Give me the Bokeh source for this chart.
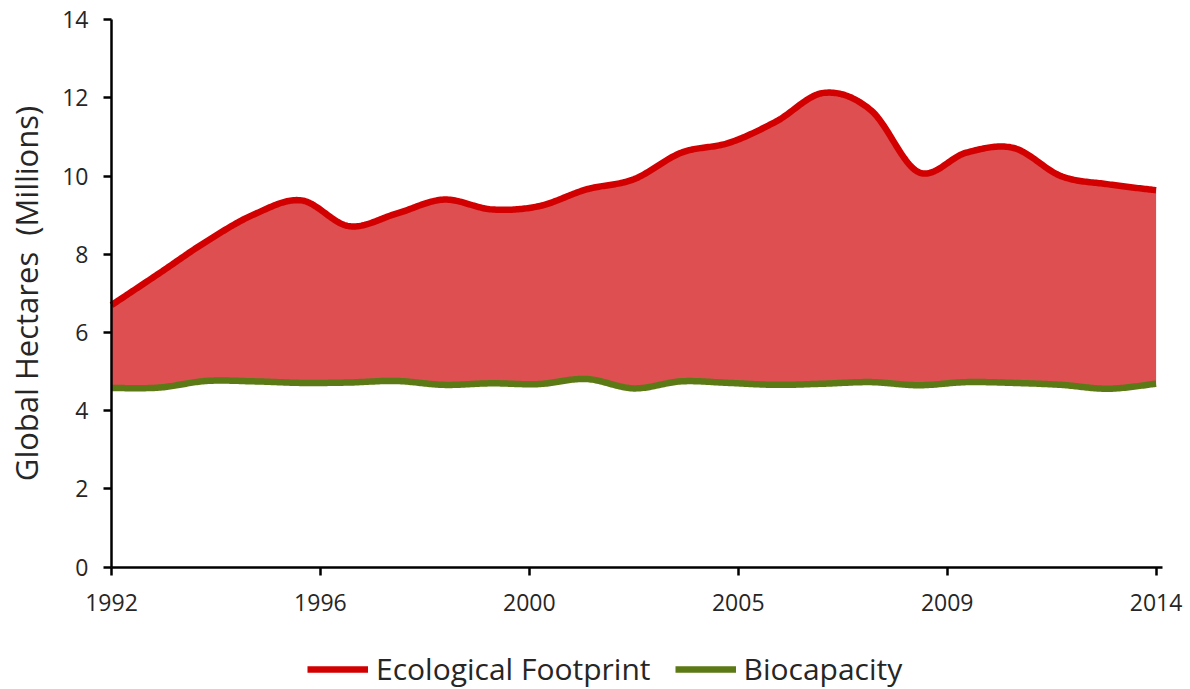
import numpy as np
from bokeh.plotting import figure
from bokeh.models import Legend, LegendItem, FixedTicker, Range1d
from bokeh.embed import file_html
from bokeh.resources import INLINE

years = [1992, 1993, 1994, 1995, 1996, 1997, 1998, 1999, 2000, 2001, 2002, 2003,
         2004, 2005, 2006, 2007, 2008, 2009, 2010, 2011, 2012, 2013, 2014]
footprint = [6.70, 7.51, 8.33, 9.02, 9.38, 8.72, 9.04, 9.40, 9.15, 9.23, 9.66, 9.92,
             10.60, 10.85, 11.40, 12.13, 11.68, 10.10, 10.60, 10.72, 10.00, 9.79, 9.64]
biocapacity = [4.58, 4.59, 4.76, 4.75, 4.71, 4.72, 4.76, 4.66, 4.70, 4.68, 4.81, 4.57,
               4.75, 4.71, 4.66, 4.69, 4.73, 4.65, 4.73, 4.71, 4.66, 4.56, 4.69]
x_tick_labels = ["1992", "1996", "2000", "2005", "2009", "2014"]
y_ticks = [0, 2, 4, 6, 8, 10, 12, 14]
series_names = ["Ecological Footprint", "Biocapacity"]
y_title = "Global Hectares \u00a0(Millions)"

FONT = "Open Sans"
TXT = "#262626"


def smooth(xs, ys, n=30):
    x = np.asarray(xs, float)
    y = np.asarray(ys, float)
    xp = np.concatenate([[x[0]], x, [x[-1]]])
    yp = np.concatenate([[y[0]], y, [y[-1]]])
    ox, oy = [], []
    m = len(x) - 1
    for i in range(m):
        p0 = np.array([xp[i], yp[i]])
        p1 = np.array([xp[i + 1], yp[i + 1]])
        p2 = np.array([xp[i + 2], yp[i + 2]])
        p3 = np.array([xp[i + 3], yp[i + 3]])
        c1 = p1 + (p2 - p0) / 6.0
        c2 = p2 - (p3 - p1) / 6.0
        t = np.linspace(0, 1, n, endpoint=(i == m - 1))[:, None]
        b = ((1 - t) ** 3) * p1 + 3 * ((1 - t) ** 2) * t * c1 + 3 * (1 - t) * t ** 2 * c2 + t ** 3 * p2
        ox.extend(b[:, 0])
        oy.extend(b[:, 1])
    return np.array(ox), np.array(oy)


fx, fy = smooth(years, footprint)
bx, by = smooth(years, biocapacity)

# layout (screen pixels)
W, H = 1190, 689
X0_PX, X1_PX = 111.0, 1155.6      # columns of first / last year
Y0_PX, YT_PX = 566.5, 19.3        # rows of y = 0 / y = top tick
Y_MAX = 14
ppx = (X1_PX - X0_PX) / (years[-1] - years[0])
ppy = (Y0_PX - YT_PX) / Y_MAX
x_start = years[0] - X0_PX / ppx
x_end = years[-1] + (W - X1_PX) / ppx
y_end = Y_MAX + YT_PX / ppy
y_start = -(H - Y0_PX) / ppy

p = figure(width=W, height=H, output_backend="svg", toolbar_location=None,
           x_range=Range1d(x_start, x_end), y_range=Range1d(y_start, y_end),
           min_border_left=0, min_border_right=0, min_border_top=0,
           min_border_bottom=0)
p.outline_line_color = None
p.xgrid.visible = False
p.ygrid.visible = False
p.background_fill_color = "white"
p.border_fill_color = "white"

p.varea(x=fx, y1=by, y2=fy, fill_color="#DE4F51", fill_alpha=1.0)
r_fp = p.line(fx, fy, line_color="#D20000", line_width=6.5, line_join="round")
r_bc = p.line(bx, by, line_color="#5B7A15", line_width=6.5, line_join="round")

tick_pos = [round(v, 1) for v in np.linspace(years[0], years[-1], len(x_tick_labels))]
p.xaxis.ticker = FixedTicker(ticks=tick_pos)
p.xaxis.major_label_overrides = {tp: lab for tp, lab in zip(tick_pos, x_tick_labels)}
p.xaxis.fixed_location = 0
p.xaxis.bounds = (years[0], years[-1] + 6.5 / ppx)
p.yaxis.ticker = FixedTicker(ticks=y_ticks)
p.yaxis.fixed_location = years[0]
p.yaxis.bounds = (0, Y_MAX)

for ax in (p.xaxis[0], p.yaxis[0]):
    ax.axis_line_color = "black"
    ax.axis_line_width = 2.5
    ax.major_tick_line_color = "black"
    ax.major_tick_line_width = 2.5
    ax.major_tick_out = 8
    ax.major_tick_in = 0
    ax.minor_tick_line_color = None
    ax.major_label_text_font = FONT
    ax.major_label_text_font_size = "23px"
    ax.major_label_text_color = TXT

p.xaxis.major_label_standoff = 19
p.yaxis.major_label_standoff = 15
p.yaxis.axis_label = y_title
p.yaxis.axis_label_text_font = FONT
p.yaxis.axis_label_text_font_size = "31px"
p.yaxis.axis_label_text_font_style = "normal"
p.yaxis.axis_label_text_color = TXT
p.yaxis.axis_label_standoff = 12

legend = Legend(items=[LegendItem(label=series_names[0], renderers=[r_fp]),
                       LegendItem(label=series_names[1], renderers=[r_bc])],
                orientation="horizontal", location=(307, 0),
                label_text_font=FONT, label_text_font_size="30px",
                label_text_color=TXT, glyph_width=61, glyph_height=30,
                label_standoff=8, spacing=24, padding=0, margin=0,
                border_line_color=None, background_fill_alpha=0)
p.add_layout(legend, "center")

open("out.html", "w").write(file_html(p, INLINE))
